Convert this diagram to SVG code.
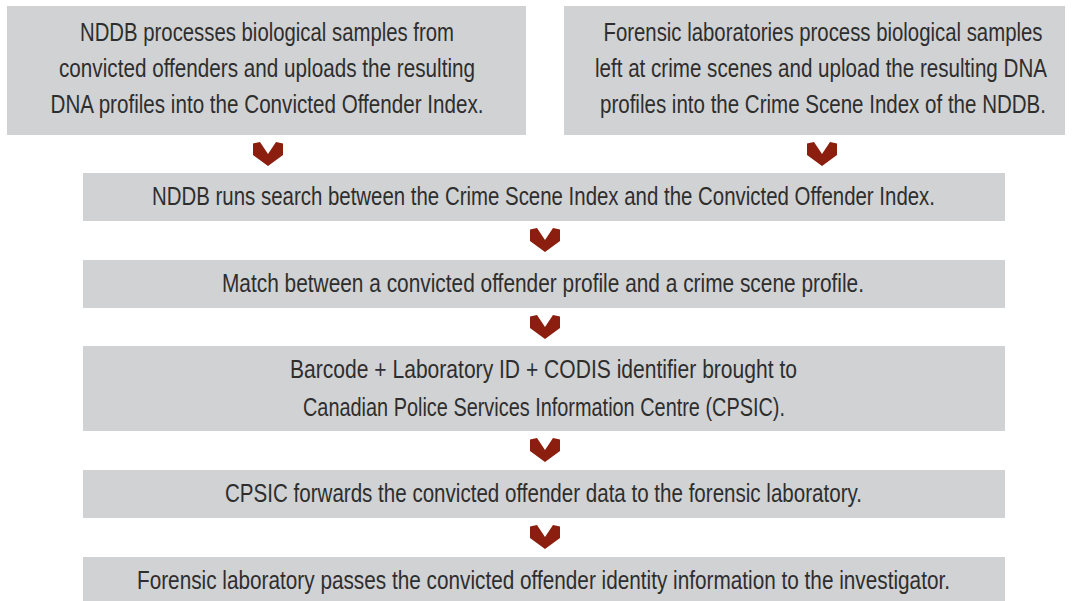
<svg xmlns="http://www.w3.org/2000/svg" width="1073" height="601" viewBox="0 0 1073 601">
  <defs>
    <style>
      .box { fill: #d1d2d4; }
      /* labels are set in a horizontally condensed sans: x positions are divided by 0.8 */
      .lbl { font-family: "Liberation Sans Narrow", "Liberation Sans", Arial, sans-serif; font-size: 25px; fill: #2e2e2e; text-anchor: middle; }
      .chev { fill: #8b1e0e; }
    </style>
    <polygon id="chevron" class="chev" points="-15,1.5 -8,0 0,12 8,0 15,1.5 15,13 0,24 -15,13"/>
  </defs>
  <rect width="1073" height="601" fill="#ffffff"/>

  <g id="connectors">
    <use href="#chevron" x="268" y="142"/>
    <use href="#chevron" x="822" y="142"/>
    <use href="#chevron" x="545" y="228"/>
    <use href="#chevron" x="545" y="315"/>
    <use href="#chevron" x="545" y="438"/>
    <use href="#chevron" x="545" y="525"/>
  </g>

  <g id="node-offender-upload">
    <rect class="box" x="7" y="6" width="519" height="129"/>
    <text class="lbl" transform="scale(0.8 1)" x="333.75" y="41.5" textLength="467.5" lengthAdjust="spacingAndGlyphs">NDDB processes biological samples from</text>
    <text class="lbl" transform="scale(0.8 1)" x="333.75" y="77.5" textLength="520" lengthAdjust="spacingAndGlyphs">convicted offenders and uploads the resulting</text>
    <text class="lbl" transform="scale(0.8 1)" x="333.75" y="113" textLength="541.25" lengthAdjust="spacingAndGlyphs">DNA profiles into the Convicted Offender Index.</text>
  </g>

  <g id="node-crime-scene-upload">
    <rect class="box" x="564" y="6" width="501" height="129"/>
    <text class="lbl" transform="scale(0.8 1)" x="1028.75" y="41.5" textLength="548.75" lengthAdjust="spacingAndGlyphs">Forensic laboratories process biological samples</text>
    <text class="lbl" transform="scale(0.8 1)" x="1026.25" y="77.5" textLength="565" lengthAdjust="spacingAndGlyphs">left at crime scenes and upload the resulting DNA</text>
    <text class="lbl" transform="scale(0.8 1)" x="1028.75" y="113" textLength="557.5" lengthAdjust="spacingAndGlyphs">profiles into the Crime Scene Index of the NDDB.</text>
  </g>

  <g id="node-search">
    <rect class="box" x="83" y="173" width="922" height="48"/>
    <text class="lbl" transform="scale(0.8 1)" x="679.375" y="205.3" textLength="978.75" lengthAdjust="spacingAndGlyphs">NDDB runs search between the Crime Scene Index and the Convicted Offender Index.</text>
  </g>

  <g id="node-match">
    <rect class="box" x="83" y="260" width="922" height="48"/>
    <text class="lbl" transform="scale(0.8 1)" x="678.75" y="292.3" textLength="802.5" lengthAdjust="spacingAndGlyphs">Match between a convicted offender profile and a crime scene profile.</text>
  </g>

  <g id="node-cpsic">
    <rect class="box" x="83" y="346" width="922" height="85"/>
    <text class="lbl" transform="scale(0.8 1)" x="679.375" y="378.3" textLength="633.75" lengthAdjust="spacingAndGlyphs">Barcode + Laboratory ID + CODIS identifier brought to</text>
    <text class="lbl" transform="scale(0.8 1)" x="680" y="415.7" textLength="602.5" lengthAdjust="spacingAndGlyphs">Canadian Police Services Information Centre (CPSIC).</text>
  </g>

  <g id="node-forward">
    <rect class="box" x="83" y="470" width="922" height="48"/>
    <text class="lbl" transform="scale(0.8 1)" x="679.375" y="502.3" textLength="796.25" lengthAdjust="spacingAndGlyphs">CPSIC forwards the convicted offender data to the forensic laboratory.</text>
  </g>

  <g id="node-investigator">
    <rect class="box" x="83" y="557" width="922" height="44"/>
    <text class="lbl" transform="scale(0.8 1)" x="679.375" y="589" textLength="1016.25" lengthAdjust="spacingAndGlyphs">Forensic laboratory passes the convicted offender identity information to the investigator.</text>
  </g>
</svg>
